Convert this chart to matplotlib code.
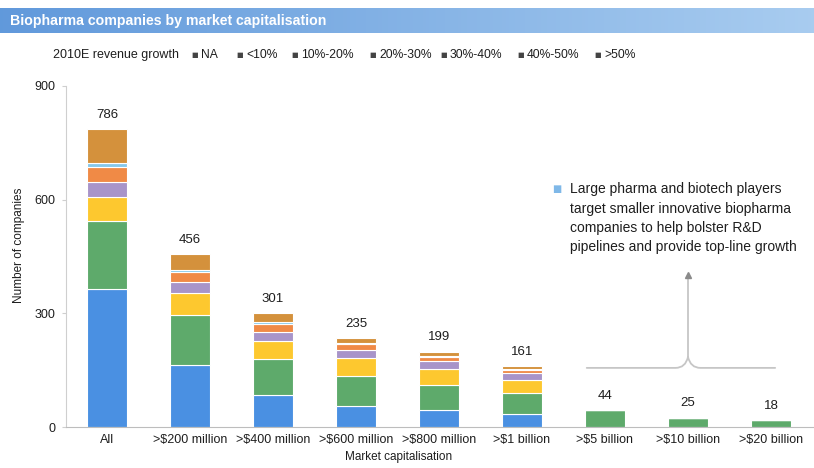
import numpy as np
import matplotlib
matplotlib.use('Agg')
import matplotlib.pyplot as plt
from matplotlib.path import Path
from matplotlib.patches import PathPatch

plt.rcParams['font.family'] = ['Liberation Sans', 'DejaVu Sans']

###############################################################################
# Data
###############################################################################
categories = [
    'All', '>$200 million', '>$400 million', '>$600 million', '>$800 million',
    '>$1 billion', '>$5 billion', '>$10 billion', '>$20 billion'
]
totals = [786, 456, 301, 235, 199, 161, 44, 25, 18]

growth_labels = ['NA', '<10%', '10%-20%', '20%-30%', '30%-40%', '40%-50%', '>50%']
na = [364, 164, 84, 56, 45, 33, 0, 0, 0]
lt10 = [181, 132, 95, 79, 66, 58, 44, 25, 18]
g10_20 = [61, 57, 48, 46, 41, 33, 0, 0, 0]
g20_30 = [40, 31, 25, 22, 21, 19, 0, 0, 0]
g30_40 = [40, 26, 20, 15, 12, 8, 0, 0, 0]
g40_50 = [12, 4, 5, 3, 3, 3, 0, 0, 0]
gt50 = [88, 42, 24, 14, 11, 7, 0, 0, 0]

yticks = [0, 300, 600, 900]

###############################################################################
# Style
###############################################################################
COLORS = ['#4a90e2', '#5eaa6b', '#fdc82f', '#a894c9', '#f08a46', '#86c8ea', '#d4913c']
TXT = '#1e1e1e'
AXC = '#cfcfcf'
W, H = 814.0, 468.0
# legend marker x positions (pixels)
LEG_X = [195, 240, 295, 373, 444, 521, 598]

series = [na, lt10, g10_20, g20_30, g30_40, g40_50, gt50]

fig = plt.figure(figsize=(8.14, 4.68), dpi=100)

###############################################################################
# Header band
###############################################################################
band = fig.add_axes([0, 1 - 33 / H, 1, 25 / H])
grad = np.linspace(0, 1, 256)[None, :]
c0 = np.array([0.38, 0.60, 0.86])
c1 = np.array([0.66, 0.80, 0.94])
img = c0[None, None, :] * (1 - grad[..., None]) + c1[None, None, :] * grad[..., None]
band.imshow(img, aspect='auto', extent=[0, 1, 0, 1])
band.set_axis_off()
fig.text(10 / W, 1 - 21 / H, 'Biopharma companies by market capitalisation',
         color='white', fontsize=10.2, fontweight='bold', va='center', ha='left')

###############################################################################
# Stacked bars
###############################################################################
ax = fig.add_axes([65.5 / W, 1 - 427 / H, 747 / W, 341 / H])
x = np.arange(len(categories))
bottom = np.zeros(len(categories))
for vals, col in zip(series, COLORS):
    ax.bar(x, vals, width=0.48, bottom=bottom, color=col,
           edgecolor='white', linewidth=0.8)
    bottom += np.array(vals)

for xi, tot in zip(x, totals):
    ax.annotate(str(tot), (xi, tot), xytext=(0, 6), textcoords='offset points',
                ha='center', va='bottom', fontsize=9.5, color=TXT)

ax.set_xlim(-0.5, len(categories) - 0.5)
ax.set_ylim(0, 900)
ax.set_yticks(yticks)
ax.set_yticklabels([str(t) for t in yticks], fontsize=9, color=TXT)
ax.set_xticks(x)
ax.set_xticklabels(categories, fontsize=9, color=TXT)
ax.tick_params(axis='x', length=0, pad=5)
ax.tick_params(axis='y', length=3, color=AXC, pad=4)
for s in ['top', 'right']:
    ax.spines[s].set_visible(False)
ax.spines['left'].set_color(AXC)
ax.spines['bottom'].set_color('#bdbdbd')
ax.set_ylabel('Number of companies', fontsize=8.5, color=TXT)
ax.yaxis.set_label_coords((25 - 65.5) / 747, (427 - 245) / 341)
ax.set_xlabel('Market capitalisation', fontsize=8.5, color=TXT)
ax.xaxis.set_label_coords((399 - 65.5) / 747, -(451 - 427) / 341)

###############################################################################
# Bracket over the large-cap bars with arrow
###############################################################################
yb, ym, yt = 156, 185, 400
verts = [
    (5.78, yb), (6.85, yb),
    (6.97, yb), (7.0, ym),
    (7.0, yt),
    (7.0, ym),
    (7.03, yb), (7.15, yb),
    (8.05, yb),
]
codes = [Path.MOVETO, Path.LINETO, Path.CURVE3, Path.CURVE3, Path.LINETO,
         Path.MOVETO, Path.CURVE3, Path.CURVE3, Path.LINETO]
ax.add_patch(PathPatch(Path(verts, codes), facecolor='none',
                       edgecolor='#c6c6c6', linewidth=1.3, capstyle='round'))
ax.plot([7.0], [yt], marker='^', markersize=4, color='#8a8a8a', clip_on=False)

###############################################################################
# Comment box
###############################################################################
fig.text(557 / W, 1 - 189 / H, '\u25A0', color='#7fb8e8', fontsize=7,
         ha='center', va='center', family='DejaVu Sans')
fig.text(570 / W, 1 - 182 / H,
         'Large pharma and biotech players\n'
         'target smaller innovative biopharma\n'
         'companies to help bolster R&D\n'
         'pipelines and provide top-line growth',
         fontsize=10, color=TXT, ha='left', va='top', linespacing=1.5)

###############################################################################
# Legend
###############################################################################
LEG_Y = 1 - 55 / H
fig.text(53 / W, LEG_Y, '2010E revenue growth', fontsize=9,
         color=TXT, ha='left', va='center')
for lx, lab in zip(LEG_X, growth_labels):
    fig.text(lx / W, LEG_Y, '\u25A0', fontsize=5, color='#444444',
             ha='center', va='center', family='DejaVu Sans')
    fig.text((lx + 6) / W, LEG_Y, lab, fontsize=8.7, color=TXT,
             ha='left', va='center')

fig.savefig('out.png', dpi=100, facecolor='white')
